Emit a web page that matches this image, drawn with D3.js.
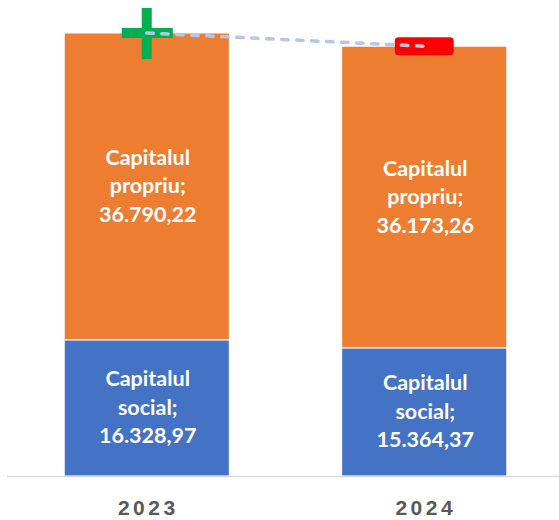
<!DOCTYPE html>
<html lang="en">
<head>
<meta charset="utf-8">
<title>Capital</title>
<script src="https://d3js.org/d3.v7.min.js"></script>
<style>
  body { margin: 0; background: #fff; }
  svg { display: block; }
  .seglabel { font-family: Lato, "Open Sans", sans-serif; font-weight: bold; font-size: 21.5px; fill: #fff; }
  .year { font-family: "Liberation Sans", Arial, sans-serif; font-weight: bold; font-size: 21px; fill: #595959; letter-spacing: 3.5px; }
</style>
</head>
<body>
<script>
// data
var years = ["2023", "2024"]
var social = [16328.97, 15364.37]     // Capitalul social
var propriu = [36790.22, 36173.26]    // Capitalul propriu
var seriesNames = ["Capitalul social", "Capitalul propriu"]
var colors = ["#4472c4", "#ed7d31"]

var drawChart = function() {
  var w = 559, h = 520
  var baseY = 476, topY = 33

  var svg = d3.select("body").append("svg")
    .attr("width", w)
    .attr("height", h)

  var rows = years.map(function (yr, i) {
    return { year: yr, social: social[i], propriu: propriu[i] }
  })
  var stack = d3.stack().keys(["social", "propriu"])(rows)

  var x = d3.scaleBand()
    .domain(years)
    .range([8, 563])
    .paddingInner(0.405)
    .paddingOuter(0.2025)

  var y = d3.scaleLinear()
    .domain([0, d3.max(rows, function (d) { return d.social + d.propriu })])
    .range([baseY, topY])

  var ro = d3.formatLocale({ decimal: ",", thousands: ".", grouping: [3], currency: ["", ""] })
  var fmt = ro.format(",.2f")

  // bars
  var layer = svg.selectAll("g.layer")
    .data(stack)
    .enter().append("g")
    .attr("class", "layer")
    .attr("fill", function (d, i) { return colors[i] })

  layer.selectAll("rect")
    .data(function (d) { return d })
    .enter().append("rect")
    .attr("x", function (d) { return x(d.data.year) })
    .attr("y", function (d) { return y(d[1]) })
    .attr("width", x.bandwidth())
    .attr("height", function (d) { return y(d[0]) - y(d[1]) })
    .attr("stroke", "#fff")
    .attr("stroke-width", 1)

  // axis line
  svg.append("line")
    .attr("x1", 7).attr("x2", w)
    .attr("y1", baseY + 0.5).attr("y2", baseY + 0.5)
    .attr("stroke", "#d9d9d9")
    .attr("stroke-width", 1.5)

  // segment labels, three lines each
  stack.forEach(function (s, si) {
    var word = seriesNames[si].split(" ")
    s.forEach(function (d) {
      var cx = x(d.data.year) + x.bandwidth() / 2 + 1
      var cy = (y(d[0]) + y(d[1])) / 2 + 7
      var t = svg.append("text")
        .attr("class", "seglabel")
        .attr("text-anchor", "middle")
        .attr("x", cx)
        .attr("y", cy)
      var lines = [word[0], word[1] + ";", fmt(d[1] - d[0])]
      lines.forEach(function (l, li) {
        t.append("tspan")
          .attr("x", cx)
          .attr("y", cy + (li - 1) * 28.5)
          .text(l)
      })
    })
  })

  // year labels
  svg.selectAll("text.year")
    .data(years)
    .enter().append("text")
    .attr("class", "year")
    .attr("text-anchor", "middle")
    .attr("x", function (d) { return x(d) + x.bandwidth() / 2 + 1.5 })
    .attr("y", 515)
    .text(function (d) { return d })

  // markers at bar tops
  var tops = rows.map(function (d) {
    return { x: x(d.year) + x.bandwidth() / 2, y: y(d.social + d.propriu) }
  })

  var p = tops[0]
  svg.append("rect")
    .attr("x", p.x - 5).attr("y", p.y - 25)
    .attr("width", 10).attr("height", 51)
    .attr("fill", "#00b050")
  svg.append("rect")
    .attr("x", p.x - 25).attr("y", p.y - 5)
    .attr("width", 51).attr("height", 10)
    .attr("fill", "#00b050")

  var q = tops[1]
  svg.append("rect")
    .attr("x", q.x - 29.5).attr("y", q.y - 9)
    .attr("width", 59).attr("height", 18)
    .attr("rx", 4)
    .attr("fill", "#ff0000")

  svg.append("line")
    .attr("x1", p.x).attr("y1", p.y)
    .attr("x2", q.x).attr("y2", q.y)
    .attr("stroke", "#b4c7e7")
    .attr("stroke-width", 3.5)
    .attr("stroke-linecap", "round")
    .attr("stroke-dasharray", "6.5,8.5")
}

drawChart()
</script>
</body>
</html>
